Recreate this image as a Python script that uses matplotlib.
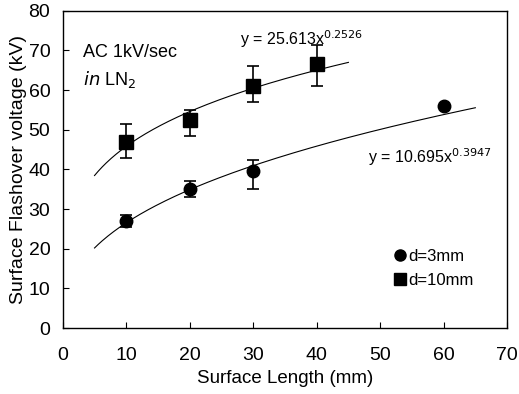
"""Surface flashover voltage vs surface length in LN2."""

import matplotlib
matplotlib.use("Agg")
import matplotlib.pyplot as plt
from matplotlib.lines import Line2D
import numpy as np

plt.rcParams["font.family"] = ["Liberation Sans", "DejaVu Sans"]

# d = 3 mm (circles)
len_3mm = [10, 20, 30, 60]
volt_3mm = [27, 35, 39.5, 56]
err_lo_3mm = [1.5, 2.0, 4.5, 0]
err_hi_3mm = [1.5, 2.0, 3.0, 0]

# d = 10 mm (squares)
len_10mm = [10, 20, 30, 40]
volt_10mm = [47, 52.5, 61, 66.5]
err_lo_10mm = [4.0, 4.0, 4.0, 5.5]
err_hi_10mm = [4.5, 2.5, 5.0, 5.0]

# power-law fits shown on the chart: y = a * x^b
fit_3mm = (10.695, 0.3947)
fit_10mm = (25.613, 0.2526)
fit_range_3mm = (5, 65)
fit_range_10mm = (5, 45)

fig = plt.figure(figsize=(5.19, 3.94), dpi=100)
ax = fig.add_axes([0.121, 0.1675, 0.856, 0.805])

for (a, b), (x0, x1) in [(fit_3mm, fit_range_3mm), (fit_10mm, fit_range_10mm)]:
    xs = np.linspace(x0, x1, 200)
    ax.plot(xs, a * xs ** b, color="black", lw=0.8, zorder=2)

ax.errorbar(len_3mm, volt_3mm, yerr=[err_lo_3mm, err_hi_3mm], fmt="o",
            color="black", ms=9, capsize=4, elinewidth=1.2, capthick=1.2,
            zorder=3)
ax.errorbar(len_10mm, volt_10mm, yerr=[err_lo_10mm, err_hi_10mm], fmt="s",
            color="black", ms=10, capsize=4, elinewidth=1.2, capthick=1.2,
            zorder=3)

ax.set_xlim(0, 70)
ax.set_ylim(0, 80)
ax.set_xticks(range(0, 71, 10))
ax.set_yticks(range(0, 81, 10))
ax.tick_params(direction="in", length=4, labelsize=14)
ax.tick_params(axis="x", pad=14)
ax.tick_params(axis="y", pad=9)
for side in ax.spines.values():
    side.set_linewidth(1.0)

ax.set_xlabel("Surface Length (mm)", fontsize=13.5, labelpad=4)
ax.set_ylabel("Surface Flashover voltage (kV)", fontsize=14, labelpad=1)

ax.text(3.2, 68.4, "AC 1kV/sec", fontsize=13)
ax.text(3.2, 61.4, r"$\it{in}$ LN$_2$", fontsize=13)
ax.text(27.9, 71.5, r"y = 25.613x$^{0.2526}$", fontsize=11.5)
ax.text(48.1, 41.5, r"y = 10.695x$^{0.3947}$", fontsize=11.5)

handles = [
    Line2D([], [], marker="o", ls="none", color="black", ms=8, label="d=3mm"),
    Line2D([], [], marker="s", ls="none", color="black", ms=8, label="d=10mm"),
]
ax.legend(handles=handles, loc="upper left", bbox_to_anchor=(50.5, 22),
          bbox_transform=ax.transData, frameon=False, fontsize=12,
          borderpad=0, handletextpad=0.0, labelspacing=0.55,
          handlelength=1.0)

fig.savefig("out.png", dpi=100, facecolor="white")
